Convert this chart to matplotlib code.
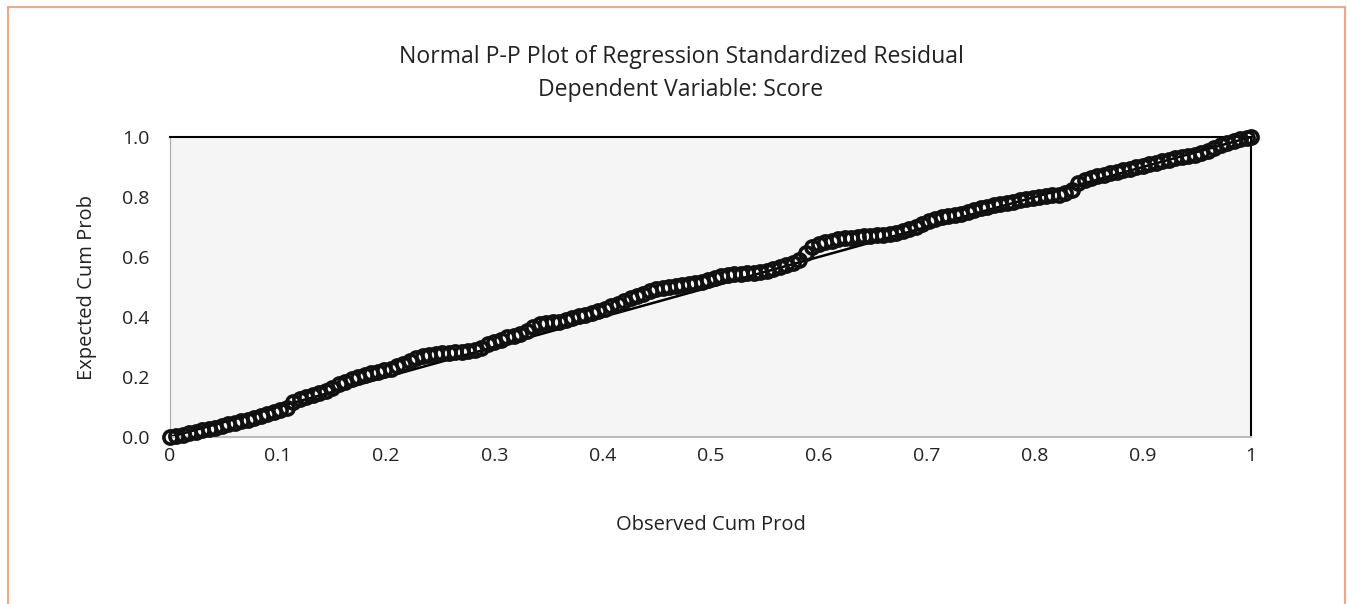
import matplotlib
matplotlib.use("Agg")
import matplotlib.pyplot as plt
from matplotlib.patches import Rectangle

plt.rcParams['font.family'] = ['Open Sans', 'DejaVu Sans']

# Observed / expected cumulative probabilities
observed = [
    0.000, 0.006, 0.012, 0.018, 0.024, 0.030, 0.036, 0.042, 0.048, 0.054,
    0.060, 0.066, 0.072, 0.078, 0.084, 0.090, 0.096, 0.102, 0.108, 0.114,
    0.120, 0.126, 0.132, 0.138, 0.144, 0.150, 0.156, 0.162, 0.168, 0.174,
    0.180, 0.186, 0.192, 0.198, 0.204, 0.210, 0.216, 0.222, 0.228, 0.234,
    0.240, 0.246, 0.252, 0.258, 0.264, 0.270, 0.276, 0.282, 0.288, 0.294,
    0.300, 0.306, 0.312, 0.318, 0.324, 0.330, 0.336, 0.342, 0.348, 0.354,
    0.360, 0.366, 0.372, 0.378, 0.384, 0.390, 0.396, 0.402, 0.408, 0.414,
    0.420, 0.426, 0.432, 0.438, 0.444, 0.450, 0.456, 0.462, 0.468, 0.474,
    0.480, 0.486, 0.492, 0.498, 0.504, 0.510, 0.516, 0.522, 0.528, 0.534,
    0.540, 0.546, 0.552, 0.558, 0.564, 0.570, 0.576, 0.582, 0.588, 0.594,
    0.600, 0.606, 0.612, 0.618, 0.624, 0.630, 0.636, 0.642, 0.648, 0.654,
    0.660, 0.666, 0.672, 0.678, 0.684, 0.690, 0.696, 0.702, 0.708, 0.714,
    0.720, 0.726, 0.732, 0.738, 0.744, 0.750, 0.756, 0.762, 0.768, 0.774,
    0.780, 0.786, 0.792, 0.798, 0.804, 0.810, 0.816, 0.822, 0.828, 0.834,
    0.840, 0.846, 0.852, 0.858, 0.864, 0.870, 0.876, 0.882, 0.888, 0.894,
    0.900, 0.906, 0.912, 0.918, 0.924, 0.930, 0.936, 0.942, 0.948, 0.954,
    0.960, 0.966, 0.972, 0.978, 0.984, 0.990, 0.996, 1.000,
]
expected = [
    0.000, 0.004, 0.008, 0.012, 0.017, 0.022, 0.026, 0.030, 0.036, 0.042,
    0.047, 0.053, 0.058, 0.064, 0.070, 0.076, 0.082, 0.090, 0.098, 0.118,
    0.128, 0.134, 0.140, 0.147, 0.155, 0.165, 0.176, 0.185, 0.193, 0.200,
    0.207, 0.213, 0.217, 0.222, 0.228, 0.236, 0.245, 0.253, 0.262, 0.270,
    0.274, 0.277, 0.279, 0.281, 0.283, 0.285, 0.287, 0.290, 0.298, 0.310,
    0.318, 0.325, 0.332, 0.338, 0.345, 0.355, 0.368, 0.376, 0.379, 0.382,
    0.385, 0.390, 0.396, 0.402, 0.408, 0.414, 0.420, 0.428, 0.436, 0.444,
    0.452, 0.462, 0.470, 0.478, 0.486, 0.492, 0.497, 0.500, 0.503, 0.506,
    0.509, 0.513, 0.518, 0.524, 0.531, 0.537, 0.540, 0.542, 0.544, 0.546,
    0.548, 0.551, 0.555, 0.560, 0.566, 0.572, 0.580, 0.590, 0.612, 0.632,
    0.642, 0.650, 0.655, 0.659, 0.662, 0.665, 0.667, 0.669, 0.671, 0.673,
    0.675, 0.678, 0.681, 0.686, 0.692, 0.700, 0.710, 0.720, 0.728, 0.733,
    0.737, 0.741, 0.745, 0.750, 0.756, 0.762, 0.768, 0.773, 0.777, 0.781,
    0.785, 0.789, 0.793, 0.797, 0.800, 0.802, 0.805, 0.808, 0.812, 0.825,
    0.848, 0.858, 0.864, 0.869, 0.874, 0.879, 0.884, 0.889, 0.894, 0.900,
    0.905, 0.910, 0.915, 0.920, 0.925, 0.929, 0.933, 0.937, 0.941, 0.946,
    0.953, 0.962, 0.972, 0.980, 0.986, 0.992, 0.997, 1.000,
]

x_ticks = [0, 0.1, 0.2, 0.3, 0.4, 0.5, 0.6, 0.7, 0.8, 0.9, 1]
x_tick_labels = ['0', '0.1', '0.2', '0.3', '0.4', '0.5', '0.6', '0.7', '0.8', '0.9', '1']
y_ticks = [0.0, 0.2, 0.4, 0.6, 0.8, 1.0]
y_tick_labels = ['0.0', '0.2', '0.4', '0.6', '0.8', '1.0']

fig = plt.figure(figsize=(13.47, 6.04), dpi=100)

# orange frame around the chart
fig.patches.append(Rectangle((8 / 1347, -0.05), 1337 / 1347, 1.05 - 7 / 604,
                             transform=fig.transFigure, fill=False,
                             edgecolor='#f4a58c', linewidth=1.5))

ax = fig.add_axes([170 / 1347, 167 / 604, 1081 / 1347, 300 / 604])
ax.set_facecolor('#f5f5f5')

# reference diagonal
ax.plot([0, 1], [0, 1], color='black', linewidth=1.8, zorder=2)
ax.plot(observed, expected, linestyle='none', marker='o', markersize=9.5,
        markerfacecolor='none', markeredgecolor='#111111', markeredgewidth=2.6,
        clip_on=False, zorder=3)

ax.set_xlim(0, 1)
ax.set_ylim(0, 1)
ax.set_xticks(x_ticks)
ax.set_xticklabels(x_tick_labels)
ax.set_yticks(y_ticks)
ax.set_yticklabels(y_tick_labels)
ax.tick_params(length=0, labelsize=14, colors='#222222')
ax.tick_params(axis='x', pad=7)
ax.tick_params(axis='y', pad=15)

ax.spines['top'].set_color('black')
ax.spines['top'].set_linewidth(1.5)
ax.spines['right'].set_color('black')
ax.spines['right'].set_linewidth(1.5)
ax.spines['left'].set_color('#aaaaaa')
ax.spines['bottom'].set_color('#bbbbbb')
ax.spines['bottom'].set_linewidth(1.5)

ax.set_xlabel('Observed Cum Prod', fontsize=14.5, labelpad=36, color='#222222')
ax.set_ylabel('Expected Cum Prob', fontsize=14.5, labelpad=18, color='#222222')

fig.text(681 / 1347, 1 - 57 / 604, 'Normal P-P Plot of Regression Standardized Residual',
         ha='center', va='center', fontsize=16.6, color='#222222')
fig.text(681 / 1347, 1 - 90 / 604, 'Dependent Variable: Score',
         ha='center', va='center', fontsize=16.6, color='#222222')

fig.savefig('out.png', dpi=100)
